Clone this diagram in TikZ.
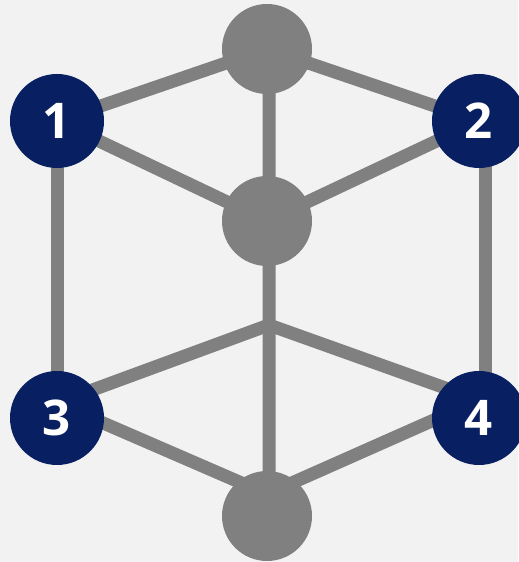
\documentclass[tikz,border=0pt]{standalone}
\usepackage{fontspec}
\setmainfont{Open Sans}
\definecolor{bgcol}{HTML}{F2F2F2}
\definecolor{bargray}{HTML}{808080}
\definecolor{navy}{HTML}{081F62}
\pgfdeclarelayer{bg}
\pgfdeclarelayer{edges}
\pgfsetlayers{bg,edges,main}

\begin{document}
\begin{tikzpicture}
    		\tikzstyle{graycircle} = [circle, fill=bargray, minimum size=1.8cm, inner sep=0pt]
    		\tikzstyle{numcircle} = [circle, fill=navy, minimum size=1.88cm, inner sep=0pt, text=white, font=\fontsize{28}{28}\selectfont\bfseries]
    		\tikzstyle{bar} = [draw=bargray, line width=0.26cm]
    		\useasboundingbox (0,0) rectangle (10.36,11.24);
    		\begin{pgfonlayer}{bg}
    		\fill[bgcol] (0,0) rectangle (10.36,11.24);
    		\end{pgfonlayer}
    		\node[graycircle] (top) at (5.34,10.26) {};
    		\node[graycircle] (mid) at (5.34,6.82) {};
    		\node[graycircle] (bot) at (5.34,0.92) {};
		\foreach \name/\x/\y in {1/1.14/8.82, 2/9.58/8.82, 3/1.14/2.88, 4/9.58/2.88}
    		{
        		\node[numcircle] (n\name) at (\x,\y) {\name};
    		}
    		\coordinate (J) at (5.38,4.74);
    		\begin{pgfonlayer}{edges}
    		\draw[bar] (n1.center) -- (top.center) -- (n2.center);
    		\draw[bar] (n1.center) -- (mid.center) -- (n2.center);
    		\draw[bar] ([xshift=0.04cm]top.center) -- ([xshift=0.04cm]mid.center) -- (J) -- ([xshift=0.04cm]bot.center);
    		\draw[bar] (n1.center) -- (n3.center);
    		\draw[bar] ([xshift=0.12cm]n2.center) -- ([xshift=0.12cm]n4.center);
    		\draw[bar] ([yshift=0.3cm]n3.center) -- (J) -- ([yshift=0.36cm]n4.center);
    		\draw[bar] ([yshift=0.3cm]n3.center) -- ([yshift=0.44cm]bot.center) -- ([yshift=0.36cm]n4.center);
    		\end{pgfonlayer}
		\end{tikzpicture}
\end{document}
